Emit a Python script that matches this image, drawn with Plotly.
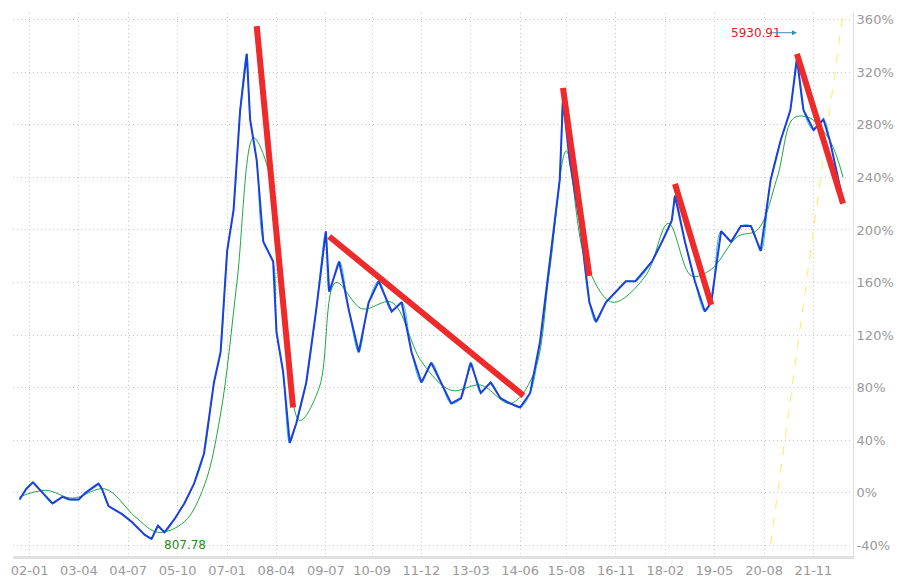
import plotly.graph_objects as go

# price track (percent change)
dates = ["2001-10", "2001-12", "2002-02", "2002-05", "2002-08", "2002-11", "2003-01", "2003-04",
         "2003-06", "2003-10", "2003-11", "2004-01", "2004-05", "2004-08", "2004-12", "2005-02",
         "2005-04", "2005-06", "2005-09", "2005-12", "2006-03", "2006-06", "2006-09", "2006-11",
         "2007-01", "2007-03", "2007-05", "2007-07", "2007-08", "2007-10", "2007-12", "2008-03",
         "2008-04", "2008-06", "2008-08", "2008-10", "2009-01", "2009-04", "2009-07", "2009-08",
         "2009-11", "2010-02", "2010-05", "2010-08", "2010-11", "2011-03", "2011-06", "2011-09",
         "2011-12", "2012-03", "2012-06", "2012-09", "2012-12", "2013-03", "2013-06", "2013-09",
         "2013-12", "2014-03", "2014-06", "2014-09", "2014-12", "2015-03", "2015-06", "2015-07",
         "2015-09", "2015-12", "2016-03", "2016-05", "2016-08", "2016-11", "2017-02", "2017-05",
         "2017-10", "2018-01", "2018-04", "2018-05", "2018-08", "2018-11", "2019-02", "2019-04",
         "2019-07", "2019-10", "2020-01", "2020-04", "2020-07", "2020-10", "2021-01", "2021-04",
         "2021-06", "2021-08", "2021-11", "2022-02", "2022-04", "2022-06", "2022-08"]
price = [-5, 3, 8, 0, -8, -3, -5, -5, 0, 7, 3, -10, -16, -22, -32, -35, -25, -30, -20, -8,
         7, 30, 84, 107, 184, 215, 291, 334, 284, 253, 191, 176, 122, 92, 38, 53, 84, 138,
         199, 153, 176, 138, 107, 145, 161, 138, 145, 107, 84, 99, 84, 68, 72, 99, 76, 84,
         72, 68, 65, 76, 115, 176, 238, 299, 253, 207, 145, 130, 145, 153, 161, 161, 176,
         191, 207, 226, 191, 161, 138, 145, 199, 191, 203, 203, 184, 238, 268, 291, 330, 291,
         276, 284, 268, 245, 222]

ma_dates = ["2001-10", "2002-06", "2003-02", "2003-12", "2004-09", "2005-04", "2005-12", "2006-06",
            "2006-11", "2007-04", "2007-09", "2008-01", "2008-06", "2008-11", "2009-05", "2009-10",
            "2010-06", "2011-03", "2011-12", "2012-09", "2013-06", "2014-03", "2014-10", "2015-03",
            "2015-08", "2016-02", "2016-10", "2017-08", "2018-03", "2018-10", "2019-04", "2019-12",
            "2020-06", "2020-12", "2021-05", "2021-10", "2022-04", "2022-08"]
ma = [-3, 2, -4, 3, -18, -30, -22, 5, 60, 160, 270, 250, 150, 55, 80, 160, 140, 145,
      100, 78, 82, 68, 90, 170, 260, 175, 145, 165, 205, 165, 170, 195, 200, 240, 285, 285, 268, 240]

trend_lines = [
    (["2007-10", "2008-09"], [355, 65]),
    (["2009-08", "2014-07"], [195, 74]),
    (["2015-07", "2016-03"], [308, 165]),
    (["2018-05", "2019-04"], [235, 143]),
    (["2021-06", "2022-08"], [334, 220]),
]
yellow_x = ["2020-10", "2022-08"]
yellow_y = [-39, 365]

tick_vals = ["2002-01", "2003-04", "2004-07", "2005-10", "2007-01", "2008-04", "2009-07", "2010-09",
             "2011-12", "2013-03", "2014-06", "2015-08", "2016-11", "2018-02", "2019-05", "2020-08",
             "2021-11"]
tick_text = [d[2:] for d in tick_vals]
y_vals = list(range(-40, 361, 40))
y_text = [f"{v}%" for v in y_vals]

fig = go.Figure()
fig.add_trace(go.Scatter(x=yellow_x, y=yellow_y, mode="lines",
                         line=dict(color="#f5f060", width=1, dash="dash")))
fig.add_trace(go.Scatter(x=ma_dates, y=ma, mode="lines", line=dict(color="#1aaa3a", width=1, shape="spline")))
fig.add_trace(go.Scatter(x=dates, y=price, mode="lines", line=dict(color="#21c4d8", width=1, shape="spline")))
fig.add_trace(go.Scatter(x=dates, y=price, mode="lines", line=dict(color="#1c3fe0", width=2)))
for tx, ty in trend_lines:
    fig.add_trace(go.Scatter(x=tx, y=ty, mode="lines", line=dict(color="#ee2a2a", width=6)))

fig.add_annotation(x="2021-06", y=350, text="5930.91", showarrow=False, xanchor="right",
                   xshift=-14, font=dict(color="#e02020", size=12))
fig.add_annotation(x="2021-06", y=350, ax=-26, ay=0, text="", showarrow=True,
                   arrowcolor="#3090b0", arrowwidth=1, arrowhead=2)
fig.add_annotation(x="2005-02", y=-40, text="807.78", showarrow=False, xanchor="left",
                   xshift=10, font=dict(color="#2a8a1a", size=12))

fig.update_layout(
    width=903, height=585, showlegend=False,
    plot_bgcolor="white", paper_bgcolor="white",
    margin=dict(l=3, r=58, t=5, b=37),
    font=dict(family="DejaVu Sans", size=13, color="#999999"),
    xaxis=dict(type="date", range=["2001-08", "2022-11"], tickvals=tick_vals, ticktext=tick_text,
               showgrid=True, gridcolor="#c8c8c8", griddash="1px,3px", zeroline=False,
               showline=True, linecolor="#e0e0e0", linewidth=3),
    yaxis=dict(side="right", range=[-48, 365], tickvals=y_vals, ticktext=y_text,
               showgrid=True, gridcolor="#c8c8c8", griddash="1px,3px", zeroline=False,
               showline=True, linecolor="#e0e0e0", linewidth=1),
)

fig.write_html("out.html")
